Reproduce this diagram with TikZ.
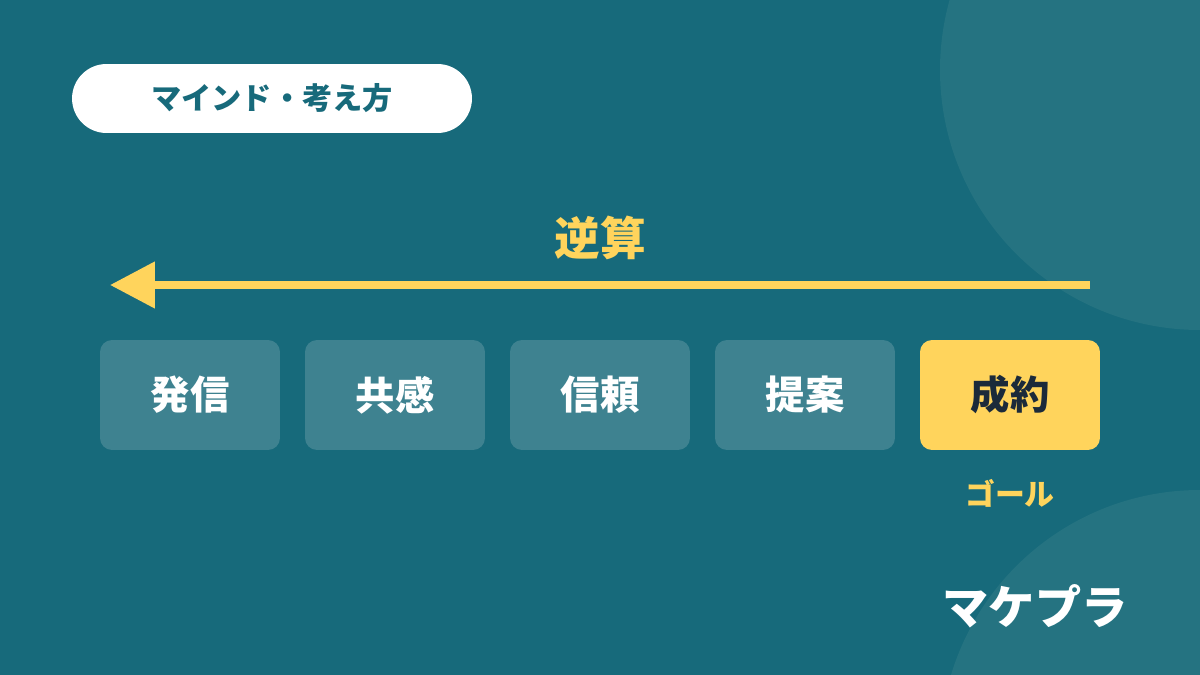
\documentclass[tikz,border=0pt]{standalone}
\usepackage{fontspec}
\setmainfont{Noto Sans CJK JP}
\usetikzlibrary{arrows.meta}
\usetikzlibrary{positioning,calc}
\definecolor{bgTeal}{HTML}{176A7B}
\definecolor{circTeal}{HTML}{257381}
\definecolor{boxTeal}{HTML}{3E8290}
\definecolor{goalYellow}{HTML}{FFD45C}
\definecolor{darkInk}{HTML}{1B2A3A}
\tikzset{every node/.style={align=center,inner sep=0pt},
		stage/.style={rectangle,rounded corners=0.24cm,fill=boxTeal,minimum width=3.6cm,
		              minimum height=2.2cm,text=white,font=\fontsize{22.4}{25}\selectfont\bfseries},
		stageGoal/.style={stage,fill=goalYellow,text=darkInk},
		tagPill/.style={rectangle,rounded corners=0.69cm,fill=white,minimum width=8cm,
		                minimum height=1.38cm,text=bgTeal,font=\fontsize{17.2}{20}\selectfont\bfseries},
		yellowText/.style={text=goalYellow,font=\bfseries},
		backArrow/.style={-{Triangle[length=0.9cm,width=0.9cm]},line width=0.16cm,draw=goalYellow}}

\begin{document}
\begin{tikzpicture}[x=0.02cm,y=-0.02cm]
		\useasboundingbox (0,0) rectangle (1200,675);
		\clip (0,0) rectangle (1200,675);
		\fill[bgTeal] (0,0) rectangle (1200,675);
		%decor circles
		\fill[circTeal] (1200,70) circle (260);
		\fill[circTeal] (1200,750) circle (260);

		\node at (272,98.5) [tagPill] (tag){マインド・考え方};
		\node at (600,238) [yellowText,font=\fontsize{26}{28}\selectfont\bfseries] (gyaku){逆算};

		\coordinate (arrStart) at (1090,285);
		\coordinate (arrEnd) at (110,285);
		\draw[backArrow] (arrStart) -- (arrEnd);

		\node at (190,395) [stage] (hassin){発信};
		\node at (395,395) [stage] (kyokan){共感};
		\node at (600,395) [stage] (shinrai){信頼};
		\node at (805,395) [stage] (teian){提案};
		\node at (1010,395) [stageGoal] (seiyaku){成約};

		\node at (1010,493) [yellowText,font=\fontsize{17}{19}\selectfont\bfseries] (goal){ゴール};
		\node at (1035,606) [text=white,font=\fontsize{26.3}{28}\selectfont\bfseries] (brand){マケプラ};
\end{tikzpicture}
\end{document}
